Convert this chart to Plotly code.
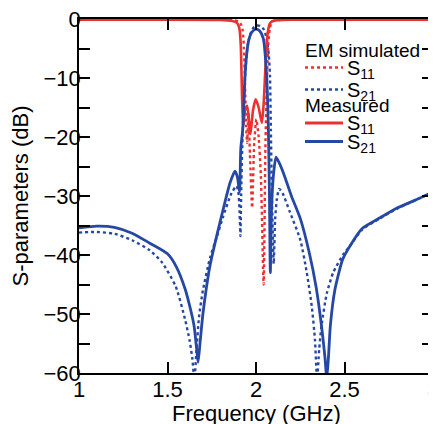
import plotly.graph_objects as go

# ---- data ----
f_em_s11 = [1.0, 1.5, 1.8, 1.87, 1.9, 1.915, 1.925, 1.932, 1.938, 1.944, 1.95, 1.957, 1.966, 1.978, 1.99,
            2.002, 2.015, 2.028, 2.043, 2.053, 2.062, 2.07, 2.078, 2.088, 2.1, 2.15, 2.5, 3.0]
s11_em = [-0.05, -0.06, -0.1, -0.2, -0.4, -0.9, -2, -5, -11, -18, -21, -16, -23, -32, -21,
          -17, -20, -27, -45, -22, -10, -4, -1.6, -0.6, -0.3, -0.12, -0.06, -0.05]

f_em_s21 = [1.0, 1.1, 1.2, 1.3, 1.4, 1.47, 1.546, 1.6, 1.625, 1.64, 1.652, 1.664, 1.678, 1.7, 1.74, 1.78,
            1.815, 1.862, 1.89, 1.9, 1.907, 1.912, 1.916, 1.922, 1.93, 1.94, 1.95, 1.965, 1.985, 2.005,
            2.025, 2.045, 2.06, 2.072, 2.079, 2.084, 2.09, 2.1, 2.108, 2.118, 2.131, 2.15, 2.19, 2.25,
            2.287, 2.315, 2.333, 2.345, 2.357, 2.37, 2.4, 2.436, 2.493, 2.53, 2.6, 2.7, 2.8, 2.9, 3.0]
s21_em = [-36.2, -36.1, -36.4, -37.5, -39.2, -41.3, -45.3, -51, -54.5, -57.5, -61, -56, -50.5, -46, -40.5, -36.8,
          -33.4, -29.5, -28.3, -29.3, -32.5, -36.8, -30, -22, -15, -9, -5.2, -2.8, -1.5, -1.1,
          -1.2, -1.8, -3.3, -6, -9.6, -18.7, -30, -41.5, -34, -30.5, -28.8, -29.5, -32.6, -37.4,
          -43, -48.7, -54.3, -61, -56, -52, -46.5, -43, -39.9, -38.5, -35.7, -33.8, -32.1, -30.7, -29.4]

f_meas_s11 = [1.0, 1.5, 1.8, 1.86, 1.89, 1.9, 1.908, 1.914, 1.918, 1.922, 1.928, 1.938, 1.95, 1.96, 1.969,
              1.983, 1.998, 2.015, 2.033, 2.043, 2.052, 2.06, 2.068, 2.078, 2.09, 2.12, 2.2, 3.0]
s11_meas = [-0.1, -0.1, -0.15, -0.3, -0.6, -1.0, -2.0, -4.5, -9, -14, -18.2, -15.5, -14.7, -17, -19.5,
            -15.5, -13.6, -15, -17.6, -14.5, -9, -4.5, -2, -0.8, -0.4, -0.2, -0.12, -0.1]

f_meas_s21 = [1.0, 1.1, 1.2, 1.3, 1.4, 1.5, 1.55, 1.6, 1.63, 1.65, 1.665, 1.673, 1.685, 1.7, 1.72, 1.74,
              1.78, 1.815, 1.853, 1.881, 1.895, 1.907, 1.914, 1.925, 1.938, 1.945, 1.956, 1.975, 1.998,
              2.02, 2.041, 2.06, 2.07, 2.076, 2.081, 2.088, 2.1, 2.113, 2.13, 2.155, 2.2, 2.25, 2.3,
              2.34, 2.37, 2.39, 2.4, 2.41, 2.42, 2.445, 2.49, 2.53, 2.6, 2.7, 2.8, 2.9, 3.0]
s21_meas = [-35.4, -35.1, -35.3, -36.3, -38, -39.8, -42, -45.8, -49.2, -52, -56, -58.2, -54.5, -50, -45.5, -41.8,
            -36.5, -32.2, -27.8, -25.8, -26.8, -29.3, -22, -18.7, -9.6, -6.7, -4, -2.3, -1.7,
            -2.0, -3.3, -9.6, -18.7, -30, -43, -32, -26, -23.4, -24.3, -26.1, -30, -33.8, -39.5,
            -45.5, -52, -57.5, -61, -57, -52, -46, -40.7, -38.5, -35.5, -33.7, -32, -30.7, -29.3]

x_tickvals = [1, 1.5, 2, 2.5, 3]
x_ticktext = ["1", "1.5", "2", "2.5", "3"]
y_tickvals = [-60, -55, -50, -45, -40, -35, -30, -25, -20, -15, -10, -5, 0]
y_ticktext = ["\u221260", "", "\u221250", "", "\u221240", "", "\u221230", "", "\u221220", "", "\u221210", "", "0"]

x_title = "Frequency (GHz)"
y_title = "S-parameters (dB)"
legend_groups = ["EM simulated", "Measured"]
legend_labels = ["S<sub>11</sub>", "S<sub>21</sub>"]

RED = "rgb(236,48,48)"
BLUE = "rgb(38,72,165)"
FONT = "Liberation Sans, Arial, sans-serif"

series = [
    (f_em_s11, s11_em, RED, "dot", 2.4, legend_groups[0], legend_labels[0]),
    (f_em_s21, s21_em, BLUE, "dot", 2.4, legend_groups[0], legend_labels[1]),
    (f_meas_s11, s11_meas, RED, "solid", 2.6, legend_groups[1], legend_labels[0]),
    (f_meas_s21, s21_meas, BLUE, "solid", 2.8, legend_groups[1], legend_labels[1]),
]

fig = go.Figure()
for fx, yy, col, dash, w, grp, lab in series:
    fig.add_trace(go.Scatter(x=fx, y=yy, mode="lines", name=f"{grp} {lab}", showlegend=False,
                             line=dict(color=col, width=w, dash=dash, shape="spline", smoothing=0.6)))

# ---- hand-built legend (paper coordinates of the plot area) ----
PX_L, PX_R, PX_T, PX_B = 79.0, 433.0, 19.0, 373.0
def px(xp):
    return (xp - PX_L) / (PX_R - PX_L)
def py(yp):
    return 1 - (yp - PX_T) / (PX_B - PX_T)

annotations = []
shapes = []
title_rows = [50, 105]
item_rows = [[67.5, 89.5], [123, 141.5]]
for gi, grp in enumerate(legend_groups):
    annotations.append(dict(x=px(303), y=py(title_rows[gi]), xref="paper", yref="paper",
                            text=grp, showarrow=False, xanchor="left", yanchor="middle",
                            font=dict(family=FONT, size=19, color="black")))
    for ii, lab in enumerate(legend_labels):
        s = series[gi * 2 + ii]
        yrow = item_rows[gi][ii]
        shapes.append(dict(type="line", xref="paper", yref="paper",
                           x0=px(305), x1=px(343), y0=py(yrow), y1=py(yrow),
                           line=dict(color=s[2], width=s[4] + (0.3 if s[3] == "solid" else 0), dash=s[3])))
        annotations.append(dict(x=px(345), y=py(yrow + 1.5), xref="paper", yref="paper",
                                text=lab, showarrow=False, xanchor="left", yanchor="middle",
                                font=dict(family=FONT, size=20, color="black")))

# x-axis title placed low, partly cut by the bottom edge as in the reference
annotations.append(dict(x=0.5, y=py(399), xref="paper", yref="paper", text=x_title,
                        showarrow=False, xanchor="center", yanchor="top",
                        font=dict(family=FONT, size=22, color="black")))

axis_common = dict(showline=True, linecolor="black", linewidth=1.5, mirror="allticks",
                   ticks="inside", ticklen=11, tickwidth=1.5, tickcolor="black",
                   showgrid=False, zeroline=False, ticklabeloverflow="allow", automargin=False,
                   tickfont=dict(family=FONT, size=22, color="black"))

fig.update_xaxes(range=[1, 3], tickmode="array", tickvals=x_tickvals, ticktext=x_ticktext,
                 ticklabelstandoff=-4, **axis_common)
fig.update_yaxes(range=[-60, 0], tickmode="array", tickvals=y_tickvals, ticktext=y_ticktext,
                 ticklabelstandoff=-8,
                 title=dict(text=y_title, font=dict(family=FONT, size=22, color="black"), standoff=9),
                 **axis_common)

# page body has an 8px margin: the figure is shrunk so the plot area lands where the reference has it
fig.update_layout(
    width=428, height=416,
    margin=dict(l=71, r=3, t=11, b=51),
    plot_bgcolor="white", paper_bgcolor="white",
    font=dict(family=FONT, size=18, color="black"),
    showlegend=False,
    annotations=annotations,
    shapes=shapes,
)

fig.write_html("out.html")
